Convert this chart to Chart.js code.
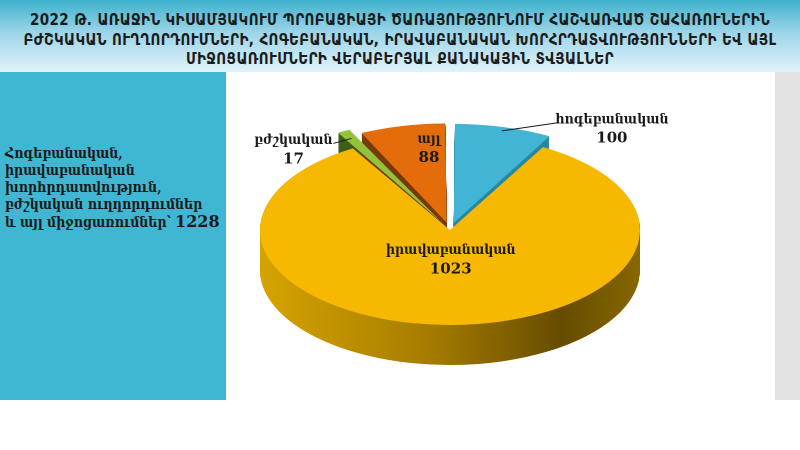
<!DOCTYPE html>
<html>
<head>
<meta charset="utf-8">
<script src="https://cdn.jsdelivr.net/npm/chart.js@4.4.1/dist/chart.umd.min.js"></script>
<style>
html, body { margin: 0; padding: 0; width: 800px; height: 450px; overflow: hidden; background: #fff; }
#head { position: absolute; left: 0; top: 0; width: 800px; height: 72px;
  background: linear-gradient(#3db1cc 0%, #9cd5e8 45%, #e0f2fa 100%); }
#head div { position: absolute; left: 0; width: 800px; text-align: center; color: #1c1c1c; letter-spacing: 0.4px;
  font: bold 15px 'DejaVu Sans Condensed', 'DejaVu Sans', sans-serif; white-space: nowrap; }
#side { position: absolute; left: 0; top: 72px; width: 226px; height: 328px; background: #3fb7d3; }
#side p { margin: 0; position: absolute; left: 5px; top: 73px; width: 225px; color: #1a1a1a;
  font: bold 14px 'DejaVu Serif Condensed', 'DejaVu Serif', serif; line-height: 17px; }
#side b { font-size: 16px; font-family: 'DejaVu Serif', serif; }
#gray { position: absolute; left: 775px; top: 72px; width: 25px; height: 328px; background: #e4e3e4; }
#wrap { position: absolute; left: 170px; top: 90px; width: 560px; height: 560px;
  transform: scaleY(0.5); transform-origin: 0 0; }
</style>
</head>
<body>
<div id="head">
  <div style="top:11px">2022 Թ. ԱՌԱՋԻՆ ԿԻՍԱՄՅԱԿՈՒՄ  ՊՐՈԲԱՑԻԱՅԻ ԾԱՌԱՅՈՒԹՅՈՒՆՈՒՄ ՀԱՇՎԱՌՎԱԾ ՇԱՀԱՌՈՒՆԵՐԻՆ</div>
  <div style="top:31px">ԲԺՇԿԱԿԱՆ ՈՒՂՂՈՐԴՈՒՄՆԵՐԻ, ՀՈԳԵԲԱՆԱԿԱՆ, ԻՐԱՎԱԲԱՆԱԿԱՆ ԽՈՐՀՐԴԱՏՎՈՒԹՅՈՒՆՆԵՐԻ ԵՎ ԱՅԼ</div>
  <div style="top:50px">ՄԻՋՈՑԱՌՈՒՄՆԵՐԻ ՎԵՐԱԲԵՐՅԱԼ ՔԱՆԱԿԱՅԻՆ ՏՎՅԱԼՆԵՐ</div>
</div>
<div id="side"><p id="sideText"></p></div>
<div id="gray"></div>
<div id="wrap"><canvas id="pie" width="560" height="560"></canvas></div>
<script>
const labels = ['հոգեբանական', 'իրավաբանական', 'բժշկական', 'այլ'];
const counts = [100, 1023, 17, 88];
const total = 1228;
const totalText = ['Հոգեբանական,', 'իրավաբանական', 'խորհրդատվություն,', 'բժշկական ուղղորդումներ', 'և այլ միջոցառումներ՝'];

const topColors = ['#41b5d3', '#f6b800', '#93c23b', '#e46c0a'];
const sideColors = ['#2a87a0', null, '#3d5f16', '#783a0c'];
const explode = [60, 0, 72, 60];

// label placement: outside with a leader line, or inside the slice
const labelPlace = [
	{ out: true, dx: 55, dy: -8, tx: 55 },
	{ out: false, t: 0.5, r: 0.30 },
	{ out: true, dx: -18, dy: 5, tx: -40 },
	{ out: false, t: 0.72, r: 0.8 },
];

const SQUASH = 0.5;
const DEPTH = 80;
const NAME_FONT = "bold 14px 'DejaVu Serif Condensed', 'DejaVu Serif'";
const NUM_FONT = "bold 15px 'DejaVu Serif'";

document.getElementById('sideText').innerHTML =
	totalText.join('<br>') + ' <b>' + total + '</b>';

const depthPlugin = {
	id: 'depth',
	beforeDatasetsDraw(chart) {
		const ctx = chart.ctx;
		const area = chart.chartArea;
		const gold = ctx.createLinearGradient(area.left + 80, 0, area.right - 80, 0);
		gold.addColorStop(0, '#d9a600');
		gold.addColorStop(0.45, '#a57c00');
		gold.addColorStop(0.78, '#664c00');
		gold.addColorStop(1, '#8c6b00');
		chart.getDatasetMeta(0).data.forEach((arc, i) => {
			const side = Object.create(arc);
			side.options = Object.assign({}, arc.options, { backgroundColor: sideColors[i] || gold, borderWidth: 0 });
			for (let d = DEPTH; d > 0; d -= 2) {
				ctx.save();
				ctx.translate(0, d);
				side.draw(ctx);
				ctx.restore();
			}
		});
	},
	afterDatasetsDraw(chart) {
		const ctx = chart.ctx;
		ctx.save();
		ctx.scale(1, 1 / SQUASH);
		ctx.textAlign = 'center';
		ctx.textBaseline = 'middle';
		ctx.fillStyle = '#1a1a1a';
		ctx.strokeStyle = '#1a1a1a';
		ctx.lineWidth = 1;
		chart.getDatasetMeta(0).data.forEach((arc, i) => {
			const p = labelPlace[i];
			const off = (arc.options.offset || 0) / 4;
			const mid = (arc.startAngle + arc.endAngle) / 2;
			let x, y;
			if (p.out) {
				const r = arc.outerRadius + off;
				const ex = arc.x + Math.cos(mid) * r;
				const ey = (arc.y + Math.sin(mid) * r) * SQUASH;
				const kx = ex + p.dx, ky = ey + p.dy;
				ctx.beginPath();
				ctx.moveTo(ex, ey);
				ctx.lineTo(kx, ky);
				ctx.stroke();
				x = kx + p.tx;
				y = ky - 3;
			} else {
				const a = arc.startAngle + (arc.endAngle - arc.startAngle) * p.t;
				const r = arc.outerRadius * p.r + off;
				x = arc.x + Math.cos(a) * r;
				y = (arc.y + Math.sin(a) * r) * SQUASH - 8;
			}
			ctx.font = NAME_FONT;
			ctx.fillText(labels[i], x, y);
			ctx.font = NUM_FONT;
			ctx.fillText(String(counts[i]), x, y + 19);
		});
		ctx.restore();
	}
};

new Chart(document.getElementById('pie'), {
	type: 'pie',
	data: {
		labels: labels,
		datasets: [{
			data: counts,
			backgroundColor: topColors,
			borderWidth: 0,
			offset: explode,
			radius: 190,
		}],
	},
	options: {
		responsive: false,
		animation: false,
		events: [],
		layout: { padding: 0 },
		plugins: {
			legend: { display: false },
			tooltip: { enabled: false },
		},
	},
	plugins: [depthPlugin],
});
</script>
</body>
</html>
